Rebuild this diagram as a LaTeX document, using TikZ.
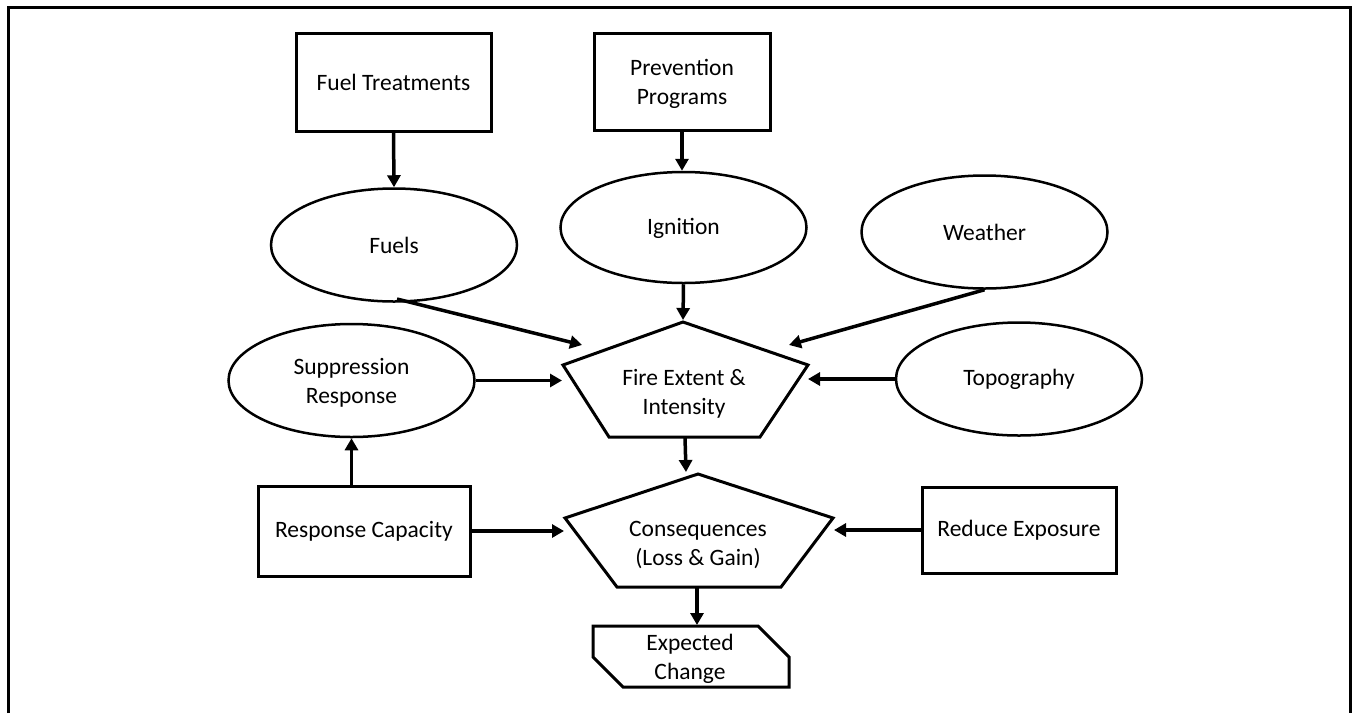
\documentclass[tikz,border=0pt]{standalone}
\usepackage{fontspec}
\setmainfont{Carlito}
\usetikzlibrary{shapes.geometric,arrows.meta}
\begin{document}
\begin{tikzpicture}[x=1pt,y=-1pt,
  lbl/.style={font=\fontsize{23.5}{29}\selectfont, align=center, inner sep=0pt},
  box/.style={lbl, draw, line width=3pt, rectangle},
  oval/.style={lbl, draw, line width=2.5pt, ellipse, minimum width=246pt, minimum height=113pt},
  shp/.style={draw, line width=3pt, line join=miter},
  arr/.style={line width=3.5pt, -{Triangle[length=12pt,width=13pt]}}]
\useasboundingbox (0,0) rectangle (1353,713);
\draw[line width=3pt] (8,713) -- (8,7) -- (1350,7) -- (1350,713);

% rectangles
\node[box, minimum width=195pt, minimum height=98pt] (fuelt) at (393.5,82) {Fuel Treatments};
\node[box, minimum width=176pt, minimum height=97pt] (prev) at (682,81.5) {};
\node[lbl] (prevt) at (682,84) {Prevention\\Programs};
\node[box, minimum width=212pt, minimum height=90pt] (resp) at (364,531) {Response Capacity};
\node[box, minimum width=194pt, minimum height=86pt] (redu) at (1019,530) {Reduce Exposure};

% ellipses
\node[oval] (fuels) at (394,245) {Fuels};
\node[oval, minimum height=111pt] (ign) at (683.5,227.5) {};
\node[lbl] (ignt) at (683.5,228.5) {Ignition};
\node[oval] (weat) at (984.5,232) {Weather};
\node[oval] (supp) at (351.5,380.5) {};
\node[lbl] (suppt) at (351.5,382.5) {Suppression\\Response};
\node[oval] (topo) at (1019,379) {Topography};

% pentagon: fire extent
\draw[shp] (683,322) -- (808,365) -- (760,437) -- (609,437) -- (563,365) -- cycle;
\node[lbl] (fire) at (684,394) {Fire Extent \&\\Intensity};
\coordinate (fireTop) at (683,320);
\coordinate (fireBot) at (685,437);
\coordinate (fireL) at (562,380);
\coordinate (fireR) at (808,379);
\coordinate (fireUL) at (582,345);
\coordinate (fireUR) at (789,345);

% pentagon: consequences
\draw[shp] (698,474) -- (833,518) -- (781,587) -- (617,587) -- (565,518) -- cycle;
\node[lbl] (cons) at (698,545) {Consequences\\(Loss \& Gain)};
\coordinate (consTop) at (686,472);
\coordinate (consBot) at (697,587);
\coordinate (consL) at (564,530);
\coordinate (consR) at (834,530);

% expected change
\draw[shp] (593,626) -- (758,626) -- (789,657) -- (789,687) -- (623,687) -- (593,657) -- cycle;
\node[lbl] (exp) at (690,659) {Expected\\Change};
\coordinate (expTop) at (697,625);

% connectors
\draw[arr] (fuelt.south) -- (fuels.north);
\draw[arr] (prev.south) -- (prev.south |- ign.north);
\draw[arr] (ign.south) -- (fireTop);
\draw[arr] (397,299) -- (fireUL);
\draw[arr] (weat.south) -- (fireUR);
\draw[arr] (supp.east) -- (supp.east -| fireL);
\draw[arr] (topo.west) -- (topo.west -| fireR);
\draw[arr] (fireBot) -- (consTop);
\draw[arr] (resp.north -| supp.south) -- (supp.south);
\draw[arr] (resp.east) -- (resp.east -| consL);
\draw[arr] (redu.west) -- (redu.west -| consR);
\draw[arr] (consBot) -- (expTop);
\end{tikzpicture}
\end{document}
